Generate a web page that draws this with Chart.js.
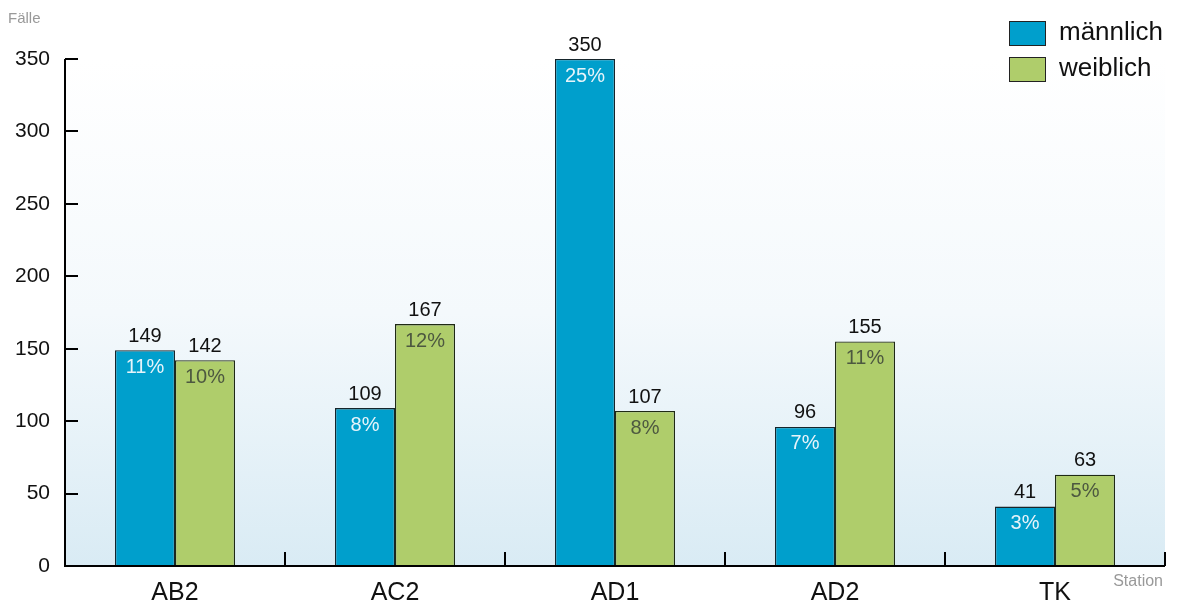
<!DOCTYPE html>
<html>
<head>
<meta charset="utf-8">
<script src="https://cdn.jsdelivr.net/npm/chart.js@4/dist/chart.umd.min.js"></script>
<style>
html,body{margin:0;padding:0;background:#fff;}
#wrap{width:1178px;height:604px;position:relative;}
</style>
</head>
<body>
<div id="wrap"><canvas id="c" width="1178" height="604"></canvas></div>
<script>
const categories = ['AB2', 'AC2', 'AD1', 'AD2', 'TK'];
const maleValues = [149, 109, 350, 96, 41];
const femaleValues = [142, 167, 107, 155, 63];
const malePercent = ['11%', '8%', '25%', '7%', '3%'];
const femalePercent = ['10%', '12%', '8%', '11%', '5%'];
const yTicks = [0, 50, 100, 150, 200, 250, 300, 350];
const seriesNames = ['männlich', 'weiblich'];
const yTitle = 'Fälle';
const xTitle = 'Station';

const FONT = '"Liberation Sans", Arial, sans-serif';
const maleColor = '#009fcc';
const femaleColor = '#afcd6b';

const decorPlugin = {
  id: 'decor',
  beforeDraw(chart) {
    const {ctx, chartArea: a} = chart;
    const g = ctx.createLinearGradient(0, a.top, 0, a.bottom);
    g.addColorStop(0, '#ffffff');
    g.addColorStop(0.5, '#f4f9fc');
    g.addColorStop(1, '#d9ebf4');
    ctx.save();
    ctx.fillStyle = g;
    ctx.fillRect(a.left, a.top, a.right - a.left, a.bottom - a.top);
    ctx.restore();
  },
  afterDatasetsDraw(chart) {
    const {ctx, chartArea: a, scales} = chart;
    const x = scales.x, y = scales.y;
    ctx.save();
    // axes
    ctx.strokeStyle = '#000';
    ctx.lineWidth = 2;
    ctx.beginPath();
    ctx.moveTo(a.left, a.top);
    ctx.lineTo(a.left, a.bottom);
    ctx.lineTo(a.right, a.bottom);
    ctx.stroke();
    // y ticks inward
    yTicks.forEach(v => {
      const py = Math.round(y.getPixelForValue(v));
      ctx.beginPath();
      ctx.moveTo(a.left, py);
      ctx.lineTo(a.left + 13, py);
      ctx.stroke();
    });
    // x ticks at category boundaries, upward
    const step = x.getPixelForValue(1) - x.getPixelForValue(0);
    for (let i = 0; i < categories.length; i++) {
      const px = Math.round(x.getPixelForValue(i) + step / 2);
      ctx.beginPath();
      ctx.moveTo(px, a.bottom);
      ctx.lineTo(px, a.bottom - 14);
      ctx.stroke();
    }
    // data labels
    ctx.textAlign = 'center';
    ctx.font = '20px ' + FONT;
    chart.data.datasets.forEach((ds, di) => {
      const meta = chart.getDatasetMeta(di);
      const pct = di === 0 ? malePercent : femalePercent;
      meta.data.forEach((bar, i) => {
        ctx.fillStyle = '#111';
        ctx.textBaseline = 'bottom';
        ctx.fillText(String(ds.data[i]), bar.x, bar.y - 4);
        ctx.fillStyle = di === 0 ? '#e6f4fa' : '#4d5840';
        ctx.textBaseline = 'top';
        ctx.fillText(pct[i], bar.x, bar.y + 7);
      });
    });
    // axis titles
    ctx.fillStyle = '#999';
    ctx.font = '15px ' + FONT;
    ctx.textAlign = 'left';
    ctx.textBaseline = 'middle';
    ctx.fillText(yTitle, 8, 19);
    ctx.font = '16px ' + FONT;
    ctx.textAlign = 'right';
    ctx.fillText(xTitle, 1163, 582);
    // legend
    ctx.font = '26px ' + FONT;
    ctx.textAlign = 'left';
    chart.data.datasets.forEach((ds, di) => {
      const top = 21 + di * 36;
      ctx.fillStyle = ds.backgroundColor;
      ctx.fillRect(1009, top, 36, 24);
      ctx.strokeStyle = '#222';
      ctx.lineWidth = 1;
      ctx.strokeRect(1009.5, top + 0.5, 36, 24);
      ctx.fillStyle = '#111';
      ctx.textBaseline = 'middle';
      ctx.fillText(ds.label, 1059, top + 12);
    });
    ctx.restore();
  }
};

new Chart(document.getElementById('c'), {
  type: 'bar',
  data: {
    labels: categories,
    datasets: [
      {label: seriesNames[0], data: maleValues, backgroundColor: maleColor, borderColor: '#16252b', borderWidth: 1.3},
      {label: seriesNames[1], data: femaleValues, backgroundColor: femaleColor, borderColor: '#1f2a15', borderWidth: 1.3}
    ]
  },
  options: {
    responsive: false,
    animation: false,
    layout: {padding: {top: 59, right: 13, left: 0, bottom: 0}},
    datasets: {bar: {categoryPercentage: 120 / 220, barPercentage: 1}},
    plugins: {legend: {display: false}, tooltip: {enabled: false}},
    scales: {
      x: {
        grid: {display: false, drawTicks: false},
        border: {display: false},
        ticks: {color: '#111', font: {family: FONT, size: 25}, padding: 12},
        afterFit: s => { s.height = 38; }
      },
      y: {
        min: 0, max: 350,
        grid: {display: false, drawTicks: false},
        border: {display: false},
        afterBuildTicks: s => { s.ticks = yTicks.map(v => ({value: v})); },
        ticks: {color: '#111', font: {family: FONT, size: 21}, padding: 15},
        afterFit: s => { s.width = 65; }
      }
    }
  },
  plugins: [decorPlugin]
});
</script>
</body>
</html>
